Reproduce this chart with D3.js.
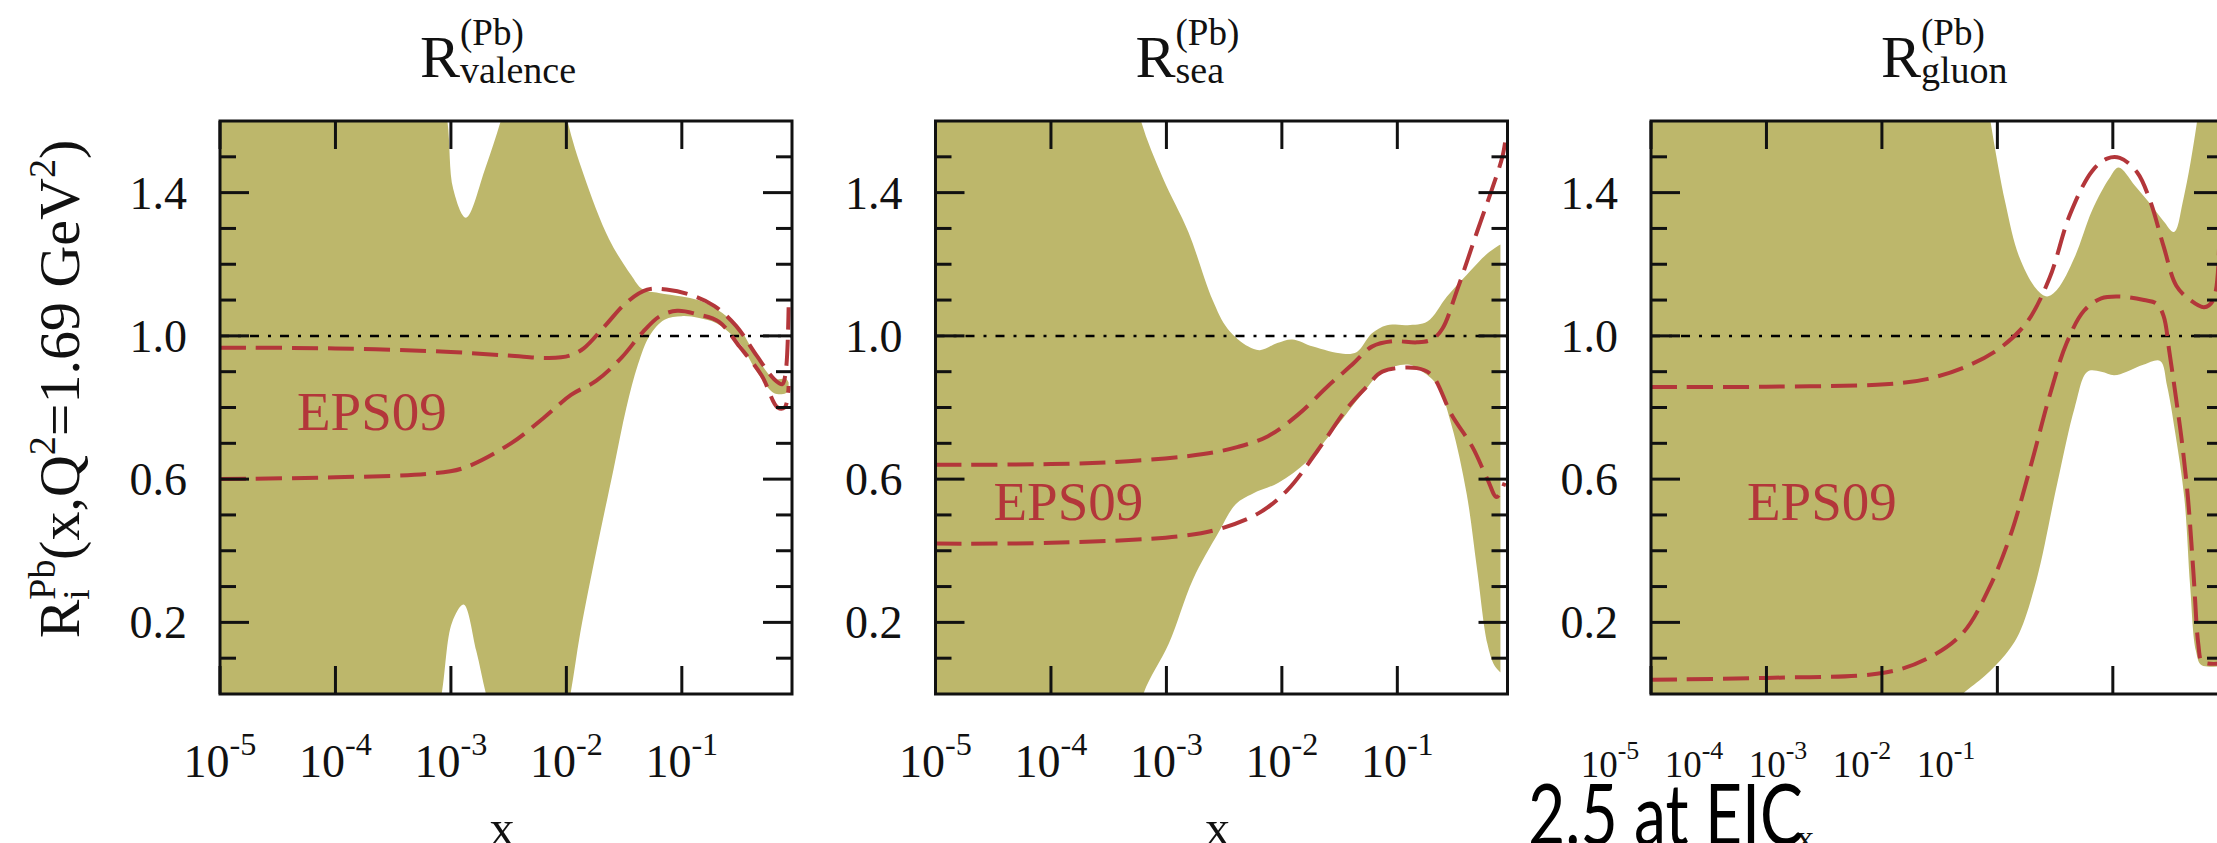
<!DOCTYPE html>
<html>
<head>
<meta charset="utf-8">
<script src="https://cdn.jsdelivr.net/npm/d3@7"></script>
<style>
body{margin:0;background:#fff;}
</style>
</head>
<body>
<div id="chart"></div>
<script>
// EPS09 nuclear modification for Pb at Q^2=1.69 GeV^2
// every series is a list of [log10(x), R]
var panelNames = ["valence", "sea", "gluon"]

var valenceBandHi = [[-5,1.8],[-3.2,1.8],[-3.04,1.62],[-2.98,1.41],[-2.87,1.33],[-2.7,1.47],[-2.55,1.62],[-2.4,1.8],[-2.1,1.8],[-1.99,1.6],[-1.85,1.45],[-1.63,1.27],[-1.44,1.17],[-1.34,1.13],[-1.2,1.12],[-1.0,1.11],[-0.86,1.1],[-0.7,1.075],[-0.5,1.02],[-0.35,0.94],[-0.2,0.88],[-0.1,0.88],[-0.075,0.87]]
var valenceBandLo = [[-5,-0.2],[-3.2,-0.2],[-3.08,0.0],[-2.99,0.2],[-2.89,0.25],[-2.78,0.12],[-2.68,-0.02],[-2.5,-0.2],[-2.1,-0.2],[-1.97,-0.01],[-1.88,0.17],[-1.74,0.4],[-1.59,0.63],[-1.48,0.8],[-1.38,0.92],[-1.28,1.0],[-1.15,1.045],[-1.0,1.055],[-0.85,1.05],[-0.7,1.035],[-0.5,0.98],[-0.35,0.9],[-0.2,0.84],[-0.1,0.84],[-0.075,0.85]]
var valenceA = [[-5,0.967],[-4,0.965],[-3,0.955],[-2.5,0.945],[-2.15,0.938],[-1.97,0.945],[-1.85,0.965],[-1.66,1.03],[-1.48,1.093],[-1.3,1.129],[-1.12,1.129],[-0.9,1.112],[-0.72,1.084],[-0.53,1.028],[-0.35,0.944],[-0.2,0.879],[-0.13,0.865],[-0.1,0.9],[-0.075,1.08]]
var valenceB = [[-5,0.6],[-4,0.605],[-3.2,0.615],[-2.9,0.63],[-2.48,0.7],[-2.2,0.77],[-1.96,0.835],[-1.74,0.875],[-1.52,0.94],[-1.34,1.01],[-1.19,1.055],[-1.04,1.07],[-0.86,1.06],[-0.68,1.04],[-0.5,0.97],[-0.31,0.89],[-0.17,0.8],[-0.11,0.8],[-0.08,0.84],[-0.075,0.86]]

var seaBandHi = [[-5,1.8],[-3.35,1.8],[-3.22,1.6],[-3.03,1.44],[-2.81,1.29],[-2.6,1.1],[-2.47,1.02],[-2.29,0.97],[-2.19,0.96],[-2.04,0.98],[-1.91,0.99],[-1.73,0.97],[-1.47,0.95],[-1.35,0.955],[-1.22,1.007],[-1.09,1.03],[-0.91,1.03],[-0.74,1.04],[-0.57,1.11],[-0.4,1.17],[-0.22,1.23],[-0.107,1.255]]
var seaBandLo = [[-5,-0.2],[-3.35,-0.2],[-3.2,0.0],[-2.98,0.14],[-2.77,0.32],[-2.55,0.45],[-2.4,0.53],[-2.25,0.56],[-2.03,0.59],[-1.78,0.65],[-1.52,0.75],[-1.3,0.84],[-1.13,0.9],[-0.91,0.92],[-0.78,0.9],[-0.65,0.86],[-0.53,0.75],[-0.4,0.56],[-0.31,0.35],[-0.22,0.14],[-0.16,0.08],[-0.107,0.06]]
var seaA = [[-5,0.64],[-4,0.642],[-3.33,0.65],[-2.68,0.67],[-2.38,0.69],[-2.12,0.72],[-1.86,0.78],[-1.6,0.86],[-1.39,0.92],[-1.22,0.97],[-1.04,0.985],[-0.83,0.982],[-0.7,0.99],[-0.61,1.02],[-0.48,1.13],[-0.31,1.29],[-0.18,1.41],[-0.09,1.5],[-0.06,1.555]]
var seaB = [[-5,0.42],[-4,0.422],[-2.9,0.44],[-2.55,0.46],[-2.2,0.505],[-1.95,0.57],[-1.69,0.68],[-1.43,0.8],[-1.26,0.86],[-1.13,0.9],[-0.83,0.91],[-0.7,0.89],[-0.53,0.78],[-0.35,0.69],[-0.22,0.6],[-0.14,0.55],[-0.07,0.59]]

var gluonBandHi = [[-5,1.8],[-2.15,1.8],[-2.06,1.6],[-1.93,1.37],[-1.81,1.22],[-1.66,1.13],[-1.57,1.11],[-1.48,1.13],[-1.33,1.22],[-1.18,1.35],[-1.03,1.44],[-0.95,1.47],[-0.81,1.42],[-0.68,1.37],[-0.56,1.32],[-0.47,1.29],[-0.39,1.38],[-0.27,1.6],[-0.2,1.8],[-0.03,1.8]]
var gluonBandLo = [[-5,-0.2],[-2.6,-0.1],[-2.3,0.0],[-2.11,0.05],[-1.93,0.11],[-1.81,0.17],[-1.66,0.32],[-1.48,0.59],[-1.33,0.8],[-1.22,0.9],[-1.1,0.9],[-0.99,0.89],[-0.88,0.9],[-0.73,0.92],[-0.59,0.93],[-0.53,0.86],[-0.46,0.73],[-0.38,0.545],[-0.33,0.3],[-0.28,0.12],[-0.23,0.08],[-0.03,0.08]]
var gluonA = [[-5,0.857],[-4,0.858],[-2.97,0.865],[-2.6,0.88],[-2.23,0.92],[-1.96,0.97],[-1.74,1.04],[-1.55,1.16],[-1.37,1.34],[-1.18,1.46],[-1.05,1.495],[-0.94,1.497],[-0.79,1.457],[-0.68,1.38],[-0.56,1.25],[-0.45,1.14],[-0.33,1.1],[-0.21,1.08],[-0.13,1.1],[-0.08,1.25]]
var gluonB = [[-5,0.04],[-4,0.045],[-2.97,0.06],[-2.6,0.1],[-2.3,0.17],[-2.08,0.29],[-1.89,0.44],[-1.7,0.65],[-1.55,0.83],[-1.4,0.98],[-1.25,1.07],[-1.1,1.105],[-0.94,1.11],[-0.73,1.1],[-0.62,1.09],[-0.56,1.055],[-0.51,0.955],[-0.45,0.82],[-0.4,0.7],[-0.35,0.55],[-0.3,0.33],[-0.26,0.14],[-0.23,0.09],[-0.18,0.085],[-0.03,0.085]]

var bands = [[valenceBandHi, valenceBandLo], [seaBandHi, seaBandLo], [gluonBandHi, gluonBandLo]]
var curves = [[valenceA, valenceB], [seaA, seaB], [gluonA, gluonB]]

var yTickLabels = [0.2, 0.6, 1.0, 1.4]
var xTickExps = [-5, -4, -3, -2, -1]

// layout
var W = 2217, H = 843
var panelLeft = [220, 935.5, 1651], panelTop = 121
var pw = 572, ph = 573
var titleDx = [200, 200, 230]
var epsPos = [[77, 430], [58, 520], [96, 520]]
// the third panel's x labels are squeezed in the original picture
var xLabelRange = [null, null, [-41, 295]]
var xLabelSize = [46, 46, 37]

var khaki = "#bdb76b", red = "#b3363a"
var serif = "'Liberation Serif', 'Times New Roman', serif"

var svg = d3.select("#chart").append("svg")
    .attr("width", W)
    .attr("height", H)
    .style("background", "#fff")

var x = d3.scaleLog().domain([1e-5, 0.9]).range([0, pw])
var y = d3.scaleLinear().domain([0, 1.6]).range([ph, 0])

var line = d3.line()
    .x(function(d){ return x(Math.pow(10, d[0])) })
    .y(function(d){ return y(d[1]) })
    .curve(d3.curveCatmullRom.alpha(0.5))

panelNames.forEach(function(name, i){
  var g = svg.append("g").attr("transform", "translate(" + panelLeft[i] + "," + panelTop + ")")

  g.append("clipPath").attr("id", "clip" + i)
    .append("rect").attr("width", pw).attr("height", ph)

  var plot = g.append("g").attr("clip-path", "url(#clip" + i + ")")

  // error band: upper edge forward, lower edge back
  var hi = bands[i][0], lo = bands[i][1].slice().reverse()
  plot.append("path")
    .attr("d", line(hi) + "L" + line(lo).slice(1) + "Z")
    .style("fill", khaki)
    .style("stroke", "none")

  plot.append("line")
    .attr("x1", 0).attr("x2", pw)
    .attr("y1", y(1)).attr("y2", y(1))
    .style("stroke", "#000")
    .style("stroke-width", 2.5)
    .style("stroke-dasharray", "9,9,3,9")

  curves[i].forEach(function(c){
    plot.append("path")
      .attr("d", line(c))
      .style("fill", "none")
      .style("stroke", red)
      .style("stroke-width", 4)
      .style("stroke-dasharray", "26,10")
  })

  // ticks, all sides
  var yt = y.ticks(16).filter(function(v){ return v > 0.001 && v < 1.599 })
  yt.forEach(function(v){
    var major = yTickLabels.some(function(l){ return Math.abs(l - v) < 1e-6 })
    var len = major ? 29 : 16
    g.append("line").attr("x1", 0).attr("x2", len).attr("y1", y(v)).attr("y2", y(v))
      .style("stroke", "#111").style("stroke-width", 3)
    g.append("line").attr("x1", pw).attr("x2", pw - len).attr("y1", y(v)).attr("y2", y(v))
      .style("stroke", "#111").style("stroke-width", 3)
  })
  xTickExps.forEach(function(e){
    var xp = x(Math.pow(10, e))
    g.append("line").attr("x1", xp).attr("x2", xp).attr("y1", ph).attr("y2", ph - 28)
      .style("stroke", "#111").style("stroke-width", 3)
    g.append("line").attr("x1", xp).attr("x2", xp).attr("y1", 0).attr("y2", 28)
      .style("stroke", "#111").style("stroke-width", 3)
  })

  g.append("rect")
    .attr("width", pw).attr("height", ph)
    .style("fill", "none")
    .style("stroke", "#111")
    .style("stroke-width", 3)

  // y tick labels
  yTickLabels.forEach(function(v){
    g.append("text")
      .attr("x", -33).attr("y", y(v)).attr("dy", "0.35em")
      .attr("text-anchor", "end")
      .style("font-family", serif).style("font-size", "46px").style("fill", "#111")
      .text(d3.format(".1f")(v))
  })

  // x tick labels 10^e
  var xl = xLabelRange[i] ? d3.scaleLog().domain([1e-5, 1e-1]).range(xLabelRange[i]) : x
  var fs = xLabelSize[i]
  xTickExps.forEach(function(e){
    var t = g.append("text")
      .attr("x", xl(Math.pow(10, e))).attr("y", ph + 83)
      .attr("text-anchor", "middle")
      .style("font-family", serif).style("font-size", fs + "px").style("fill", "#111")
    t.append("tspan").text("10")
    t.append("tspan").attr("dy", -fs * 0.48).style("font-size", (fs * 0.7) + "px").text(String(e))
  })

  // x axis title
  g.append("text")
    .attr("x", i == 2 ? 154 : pw / 2 - 4)
    .attr("y", i == 2 ? ph + 156 : ph + 151)
    .attr("text-anchor", "middle")
    .style("font-family", serif).style("font-size", i == 2 ? "36px" : "50px").style("fill", "#111")
    .text("x")

  // panel title R^(Pb)_name
  var tt = g.append("text")
    .attr("x", titleDx[i]).attr("y", -44)
    .style("font-family", serif).style("font-size", "60px").style("fill", "#111")
  tt.append("tspan").text("R")
  var sup = tt.append("tspan").attr("dy", -32).style("font-size", "37px").text("(Pb)")
  var supW = sup.node().getComputedTextLength()
  tt.append("tspan").attr("dx", -supW).attr("dy", 38).style("font-size", "38px").text(name)

  g.append("text")
    .attr("x", epsPos[i][0]).attr("y", epsPos[i][1] - panelTop)
    .style("font-family", serif).style("font-size", "55px").style("fill", red)
    .text("EPS09")
})

// y axis title
var yl = svg.append("text")
    .attr("transform", "translate(79,389) rotate(-90)")
    .attr("text-anchor", "middle")
    .style("font-family", serif).style("font-size", "58px").style("fill", "#111")
yl.append("tspan").text("R")
var ysup = yl.append("tspan").attr("dy", -24).style("font-size", "38px").text("Pb")
var ysupW = ysup.node().getComputedTextLength()
yl.append("tspan").attr("dx", -ysupW).attr("dy", 34).style("font-size", "38px").text("i")
yl.append("tspan").attr("dx", ysupW - 11).attr("dy", -10).text("(x,Q")
yl.append("tspan").attr("dy", -24).style("font-size", "38px").text("2")
yl.append("tspan").attr("dy", 24).text("=1.69 GeV")
yl.append("tspan").attr("dy", -24).style("font-size", "38px").text("2")
yl.append("tspan").attr("dy", 24).text(")")

// slide caption overlapping the last panel
svg.append("text")
    .attr("x", 1528).attr("y", 845)
    .attr("textLength", 275).attr("lengthAdjust", "spacingAndGlyphs")
    .style("font-family", "Lato, 'Open Sans', sans-serif").style("font-size", "86px").style("fill", "#000")
    .text("2.5 at EIC")
</script>
</body>
